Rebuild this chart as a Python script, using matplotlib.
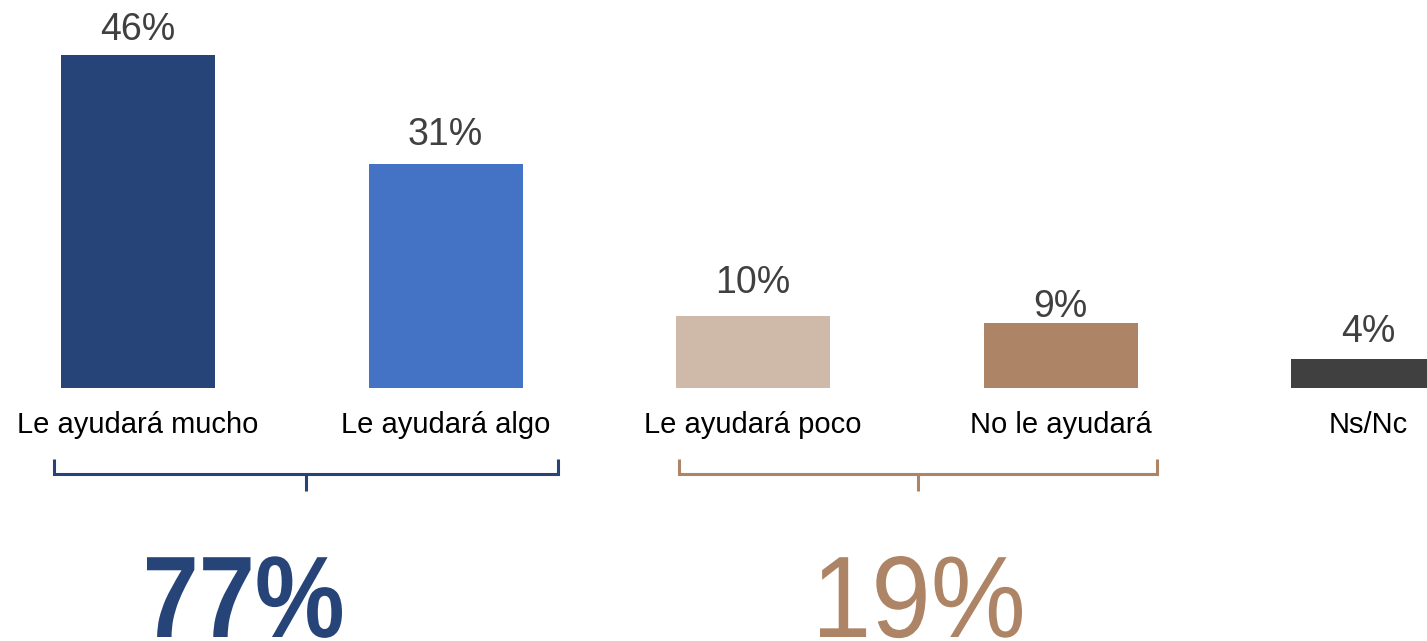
import matplotlib
matplotlib.use("Agg")
import matplotlib.pyplot as plt
from matplotlib.textpath import TextPath
from matplotlib.patches import PathPatch
from matplotlib.font_manager import FontProperties
from matplotlib.transforms import Affine2D, IdentityTransform

# ---- data ----
categories = ["Le ayudará mucho", "Le ayudará algo", "Le ayudará poco", "No le ayudará", "Ns/Nc"]
values = [46, 31, 10, 9, 4]
value_labels = ["46%", "31%", "10%", "9%", "4%"]
group_totals = [77, 19]
group_labels = ["77%", "19%"]

# ---- style ----
bar_colors = ["#264478", "#4472C4", "#CFB9A8", "#AD8465", "#404040"]
group_colors = ["#264478", "#AD8465"]
label_offsets_px = [15, 19, 23, 6, 17]

W, H, DPI = 1427, 641, 100
fig = plt.figure(figsize=(W / DPI, H / DPI), dpi=DPI)
fig.patch.set_facecolor("white")
ax = fig.add_axes([0, 0, 1, 1])
ax.axis("off")

step = 307.5
ppu = 7.24
ax.set_xlim(-138 / step, (W - 138) / step)
ax.set_ylim(-(H - 388) / ppu, 388 / ppu)

xs = list(range(len(categories)))
ax.bar(xs, values, width=154 / step, color=bar_colors, linewidth=0)

for x, v, lab, off in zip(xs, values, value_labels, label_offsets_px):
    ax.annotate(lab, (x, v), xytext=(0, off), textcoords="offset pixels",
                ha="center", va="baseline", fontsize=27, color="#404040",
                family="Liberation Sans")

for x, c in zip(xs, categories):
    ax.text(x, -(433 - 388) / ppu, c, ha="center", va="baseline", fontsize=21,
            color="#000000", family="Liberation Sans")

def py(p):
    return (388 - p) / ppu

brackets = [(-0.273, 1.366), (1.759, 3.314)]
for (x0, x1), col in zip(brackets, group_colors):
    ax.plot([x0, x0, x1, x1], [py(459), py(474), py(474), py(459)], color=col,
            lw=2.2, solid_joinstyle="miter", solid_capstyle="butt")
    xm = (x0 + x1) / 2
    ax.plot([xm, xm], [py(474), py(491)], color=col, lw=2.2, solid_capstyle="butt")

def big_text(s, weight, color, left, right, baseline_top, size=116):
    tp = TextPath((0, 0), s, size=size,
                  prop=FontProperties(family="Liberation Sans", weight=weight))
    ext = tp.get_extents()
    sx = (right - left) / ext.width
    tr = Affine2D().translate(-ext.x0, 0).scale(sx, 1).translate(left, H - baseline_top)
    patch = PathPatch(tr.transform_path(tp), transform=IdentityTransform(),
                      facecolor=color, edgecolor="none")
    fig.add_artist(patch)

big_text(group_labels[0], "bold", group_colors[0], 147, 342, 637)
big_text(group_labels[1], "normal", group_colors[1], 820, 1022, 637)

fig.savefig("out.png", dpi=DPI, facecolor="white")
